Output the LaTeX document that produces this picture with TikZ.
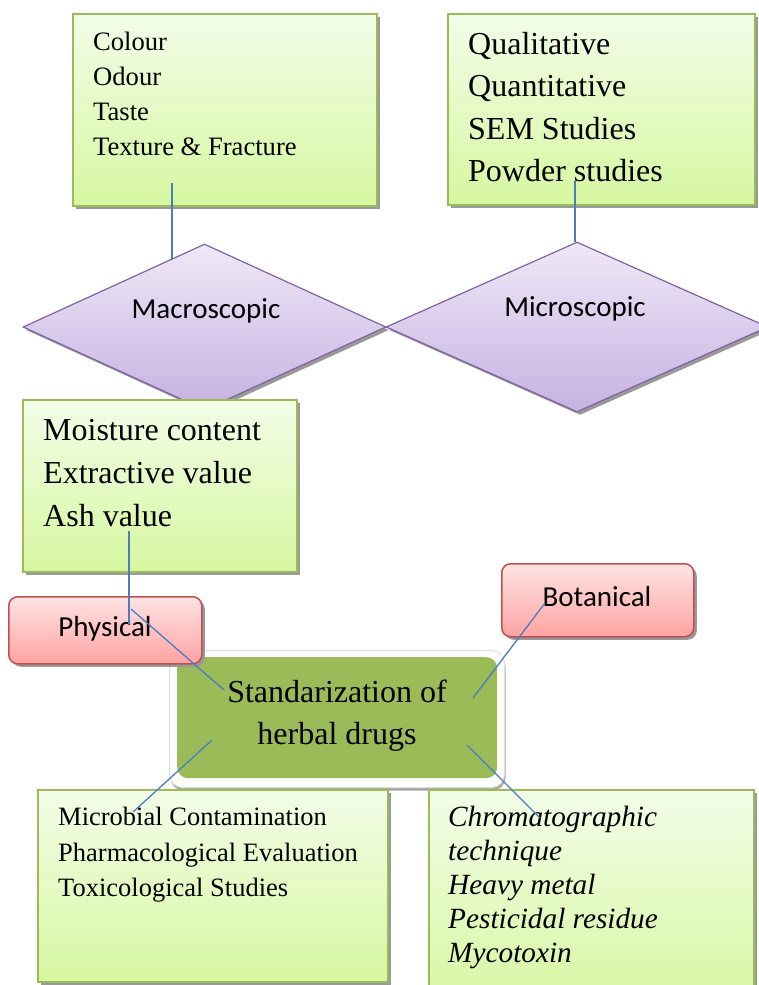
\documentclass[tikz,border=0pt]{standalone}
\usepackage{fontspec}
\setmainfont{Liberation Serif}
\newfontfamily\calib{Carlito}
\usetikzlibrary{shapes.geometric,shadows}
\definecolor{gborder}{HTML}{9BBB59}
\definecolor{gtop}{HTML}{F3FDE8}
\definecolor{gbot}{HTML}{D6F7A0}
\definecolor{rborder}{HTML}{C0504D}
\definecolor{rtop}{HTML}{FFE3E3}
\definecolor{rbot}{HTML}{FFA3A3}
\definecolor{pborder}{HTML}{8064A2}
\definecolor{ptop}{HTML}{EEE8F6}
\definecolor{pbot}{HTML}{C6B2E2}
\definecolor{cgreen}{HTML}{9BBB59}
\definecolor{link}{HTML}{4A7EBB}
\tikzset{
  shad/.style={general shadow={fill=black!40, shadow xshift=3pt, shadow yshift=-3pt}},
  greenbox/.style={rectangle, draw=gborder, line width=1.5pt, top color=gtop, bottom color=gbot, shad, anchor=north west, inner sep=0pt},
  redbox/.style={rectangle, rounded corners=9pt, draw=rborder, line width=1.5pt, top color=rtop, bottom color=rbot, shad, anchor=north west, inner sep=0pt},
  diam/.style={diamond, draw=pborder, line width=1.2pt, top color=ptop, bottom color=pbot, shad, inner sep=0pt},
  boxtext/.style={anchor=north west, inner sep=0pt, align=left},
  sanslabel/.style={font=\calib\fontsize{29}{34}\selectfont, inner sep=0pt},
  conn/.style={draw=link, line width=1.3pt},
}
\begin{document}
\begin{tikzpicture}[x=1pt,y=-1pt]
\useasboundingbox (0,0) rectangle (759,985);
% top boxes
\node[greenbox, minimum width=304pt, minimum height=192pt] (tl) at (72,13) {};
\node[greenbox, minimum width=307pt, minimum height=191pt] (tr) at (447,13) {};
% diamonds
\node[diam, minimum width=363pt, minimum height=166pt] (mac) at (204.5,327) {};
\node[diam, minimum width=382pt, minimum height=170pt] (mic) at (577,327) {};
\node[sanslabel] (macl) at (206,311) {Macroscopic};
\node[sanslabel] (micl) at (575,309) {Microscopic};
% moisture box
\node[greenbox, minimum width=274pt, minimum height=172pt] (moist) at (22,399) {};
% center box
\node[rectangle, rounded corners=13pt, draw=black!12, line width=1pt, fill=white, minimum width=335pt, minimum height=137pt, anchor=north west, general shadow={fill=black!35, shadow xshift=1pt, shadow yshift=-3pt}] (cframe) at (169,650) {};
\node[rectangle, rounded corners=11pt, fill=cgreen, minimum width=320pt, minimum height=121pt, anchor=north west, inner sep=0pt] (cbox) at (177,657) {};
\node[anchor=north, inner sep=0pt, align=center, font=\fontsize{32}{42}\selectfont] (ctext) at (337,680) {Standarization of\\herbal drugs};
% red boxes
\node[redbox, minimum width=193pt, minimum height=67pt] (phys) at (8,596) {};
\node[sanslabel] (physl) at (105,629) {Physical};
\node[redbox, minimum width=192pt, minimum height=73pt] (bot) at (501,563) {};
\node[sanslabel] (botl) at (597,597) {Botanical};
% bottom boxes
\node[greenbox, minimum width=350pt, minimum height=192pt] (bl) at (37,789) {};
\node[greenbox, minimum width=325pt, minimum height=220pt] (br) at (428,789) {};
% texts
\node[boxtext, font=\fontsize{26.6}{35}\selectfont] (tlt) at (93,31.5) {Colour\\Odour\\Taste\\Texture \& Fracture};
\node[boxtext, font=\fontsize{32}{42.5}\selectfont] (trt) at (468,32) {Qualitative\\Quantitative\\SEM Studies\\Powder studies};
\node[boxtext, font=\fontsize{32}{43}\selectfont] (mt) at (43,419) {Moisture content\\Extractive value\\Ash value};
\node[boxtext, font=\fontsize{26.5}{35.5}\selectfont] (blt) at (58,807) {Microbial Contamination\\Pharmacological Evaluation\\Toxicological Studies};
\node[boxtext, font=\itshape\fontsize{29.3}{34}\selectfont] (brt) at (448,806) {Chromatographic\\technique\\Heavy metal\\Pesticidal residue\\Mycotoxin};
% connector end points
\coordinate (a1) at (172,183); \coordinate (b1) at (172,259);
\coordinate (a2) at (575,181); \coordinate (b2) at (575,242);
\coordinate (a3) at (129,531); \coordinate (b3) at (129,624);
\coordinate (a4) at (131,609); \coordinate (b4) at (224,690);
\coordinate (a5) at (545,603); \coordinate (b5) at (473,698);
\coordinate (a6) at (212,740); \coordinate (b6) at (133,812);
\coordinate (a7) at (467,745); \coordinate (b7) at (540,818);
\draw[conn] (a1) -- (b1);
\draw[conn] (a2) -- (b2);
\draw[conn] (a3) -- (b3);
\draw[conn] (a4) -- (b4);
\draw[conn] (a5) -- (b5);
\draw[conn] (a6) -- (b6);
\draw[conn] (a7) -- (b7);
\end{tikzpicture}
\end{document}
